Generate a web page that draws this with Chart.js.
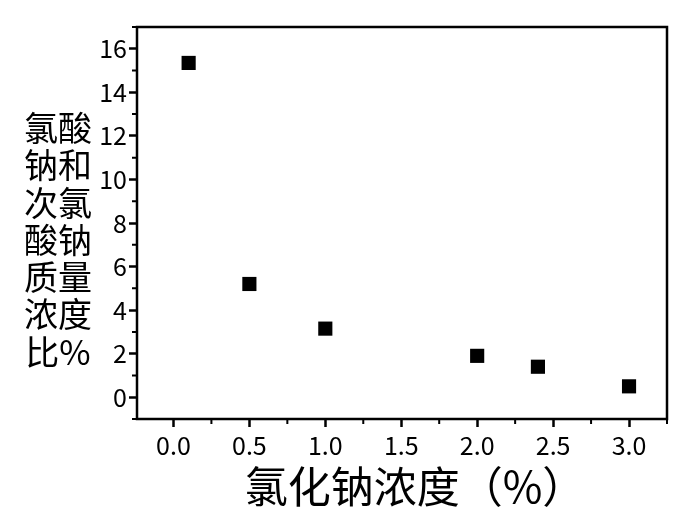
<!DOCTYPE html>
<html>
<head>
<meta charset="utf-8">
<script src="https://cdn.jsdelivr.net/npm/chart.js@4/dist/chart.umd.min.js"></script>
<style>
  html, body { margin: 0; padding: 0; background: #fff; }
  #wrap { width: 700px; height: 520px; }
</style>
</head>
<body>
<div id="wrap"><canvas id="chart" width="700" height="520"></canvas></div>
<script>
// Data
const naclConc = [0.1, 0.5, 1.0, 2.0, 2.4, 3.0];
const massRatio = [15.35, 5.2, 3.15, 1.9, 1.4, 0.5];
const yTitleLines = ['氯酸', '钠和', '次氯', '酸钠', '质量', '浓度', '比%'];
const xTitle = '氯化钠浓度（%）';

const FONT = '"Noto Sans CJK SC", "Noto Sans", sans-serif';

function isMajorX(v) { return Math.abs(v * 2 - Math.round(v * 2)) < 1e-6; }
function isMajorY(v) { return Math.round(v) % 2 === 0 && v >= 0; }

// frame box, minor ticks and the axis titles
const framePlugin = {
  id: 'frame',
  afterDraw(chart) {
    const { ctx, chartArea: a, scales: { x, y } } = chart;
    ctx.save();
    ctx.strokeStyle = '#000';
    ctx.lineWidth = 2.5;
    ctx.strokeRect(a.left, a.top, a.right - a.left, a.bottom - a.top);

    ctx.lineWidth = 2;
    ctx.beginPath();
    x.ticks.forEach(t => {
      if (isMajorX(t.value)) return;
      const px = x.getPixelForValue(t.value);
      ctx.moveTo(px, a.bottom);
      ctx.lineTo(px, a.bottom + 5);
    });
    y.ticks.forEach(t => {
      if (isMajorY(t.value)) return;
      const py = y.getPixelForValue(t.value);
      ctx.moveTo(a.left, py);
      ctx.lineTo(a.left - 5, py);
    });
    ctx.stroke();

    ctx.fillStyle = '#000';
    ctx.textAlign = 'center';
    ctx.textBaseline = 'middle';
    ctx.font = '34px ' + FONT;
    yTitleLines.forEach((line, i) => {
      ctx.fillText(line, 58, 128 + i * 37.3);
    });
    ctx.font = '43px ' + FONT;
    ctx.fillText(xTitle, (a.left + a.right) / 2 + 13, 487);
    ctx.restore();
  }
};

const ctx = document.getElementById('chart').getContext('2d');
new Chart(ctx, {
  type: 'scatter',
  data: {
    datasets: [{
      data: naclConc.map((v, i) => ({ x: v, y: massRatio[i] })),
      pointStyle: 'rect',
      pointRadius: 10,
      pointHoverRadius: 10,
      backgroundColor: '#000',
      borderWidth: 0
    }]
  },
  options: {
    responsive: false,
    animation: false,
    layout: { padding: { top: 27, right: 33, left: 0, bottom: 0 } },
    plugins: {
      legend: { display: false },
      tooltip: { enabled: false }
    },
    scales: {
      x: {
        type: 'linear',
        min: -0.24,
        max: 3.25,
        afterFit(scale) { scale.height = 101; },
        border: { display: false },
        grid: {
          drawOnChartArea: false,
          tickLength: 8,
          tickWidth: 2.5,
          tickColor: c => isMajorX(c.tick.value) ? '#000' : 'transparent'
        },
        ticks: {
          stepSize: 0.25,
          includeBounds: false,
          autoSkip: false,
          maxRotation: 0,
          padding: 3,
          color: '#000',
          font: { family: FONT, size: 25 },
          callback: v => isMajorX(v) ? v.toFixed(1) : ''
        }
      },
      y: {
        type: 'linear',
        min: -1,
        max: 17,
        afterFit(scale) { scale.width = 137; },
        border: { display: false },
        grid: {
          drawOnChartArea: false,
          tickLength: 8,
          tickWidth: 2.5,
          tickColor: c => isMajorY(c.tick.value) ? '#000' : 'transparent'
        },
        ticks: {
          stepSize: 1,
          autoSkip: false,
          padding: 2,
          color: '#000',
          font: { family: FONT, size: 25 },
          callback: v => isMajorY(v) ? String(v) : ''
        }
      }
    }
  },
  plugins: [framePlugin]
});
</script>
</body>
</html>
